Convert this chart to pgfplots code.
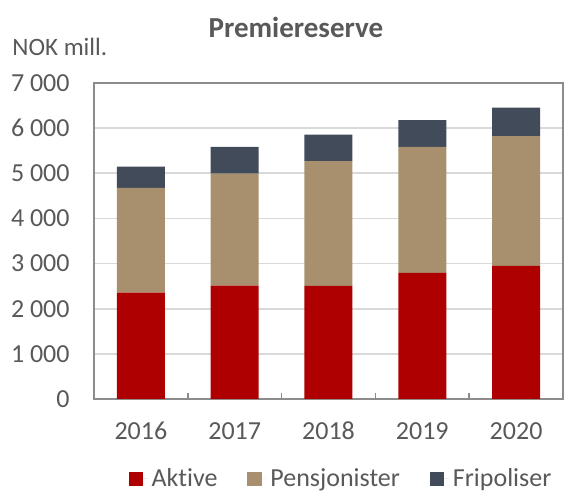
\documentclass[border=0pt]{standalone}
\usepackage{fontspec}
\setmainfont{Carlito}[Ligatures=NoCommon]
\usepackage{pgfplots}
\pgfplotsset{compat=1.18}
\definecolor{aktiv}{HTML}{AE0000}
\definecolor{pens}{HTML}{A8906E}
\definecolor{frip}{HTML}{414B5A}
\definecolor{txt}{HTML}{595959}
\definecolor{gridc}{HTML}{D9D9D9}
\definecolor{axc}{HTML}{8C8C8C}

\begin{document}
\begin{tikzpicture}
\path[use as bounding box] (0,0) rectangle (282pt,245.5pt);
\begin{axis}[
  at={(47pt,46pt)}, anchor=south west,
  scale only axis, width=234.5pt, height=158pt,
  ybar stacked, bar width=24pt,
  xmin=-0.5, xmax=4.5, ymin=0, ymax=7000,
  axis line style={axc, line width=1pt},
  xtick={0,1,2,3,4}, xticklabels={2016,2017,2018,2019,2020},
  xtick pos=bottom, ytick pos=left,
  major tick length=0pt,
  extra x ticks={0.5,1.5,2.5,3.5}, extra x tick labels={},
  extra x tick style={major tick length=3pt, tick style={axc, line width=0.8pt}, grid=none},
  ytick={0,1000,2000,3000,4000,5000,6000,7000},
  yticklabels={0,1 000,2 000,3 000,4 000,5 000,6 000,7 000},
  ymajorgrids, major grid style={gridc, line width=0.8pt},
  tick label style={font=\fontsize{13}{15}\selectfont, text=txt},
  yticklabel style={anchor=east, inner sep=0pt, xshift=-12pt},
  xticklabel style={anchor=base, inner sep=0pt, yshift=-20.5pt},
  title={\textbf{Premiereserve}},
  title style={at={(0.4307,1.139)}, anchor=center, font=\fontsize{14.5}{17}\selectfont, text=txt},
  ylabel={NOK mill.},
  ylabel style={at={(-0.1748,1.114)}, rotate=-90, anchor=west, inner sep=0pt, font=\fontsize{12.5}{15}\selectfont, text=txt},
  legend style={at={(0.5288,-0.2532)}, anchor=center, draw=none, fill=none,
    legend columns=3, font=\fontsize{13}{15}\selectfont, text=txt,
    /tikz/every even column/.append style={column sep=13pt}},
  legend cell align=left,
]
\addplot[fill=aktiv, draw=none, legend image code/.code={\fill[aktiv] (0pt,-3.6pt) rectangle (7.25pt,3.6pt); \path (7.25pt,0pt) -- (9.5pt,0pt);}]
  coordinates {(0,2356) (1,2511) (2,2504) (3,2793) (4,2948)};
\addplot[fill=pens, draw=none, legend image code/.code={\fill[pens] (0pt,-3.6pt) rectangle (7.25pt,3.6pt); \path (7.25pt,0pt) -- (9.5pt,0pt);}]
  coordinates {(0,2318) (1,2482) (2,2763) (3,2792) (4,2874)};
\addplot[fill=frip, draw=none, legend image code/.code={\fill[frip] (0pt,-3.6pt) rectangle (7.25pt,3.6pt); \path (7.25pt,0pt) -- (9.5pt,0pt);}]
  coordinates {(0,475) (1,592) (2,592) (3,593) (4,630)};
\legend{Aktive,Pensjonister,Fripoliser}
\draw[axc, line width=1pt] (rel axis cs:0,1) -- (rel axis cs:1,1) -- (rel axis cs:1,0);
\end{axis}
\end{tikzpicture}
\end{document}
